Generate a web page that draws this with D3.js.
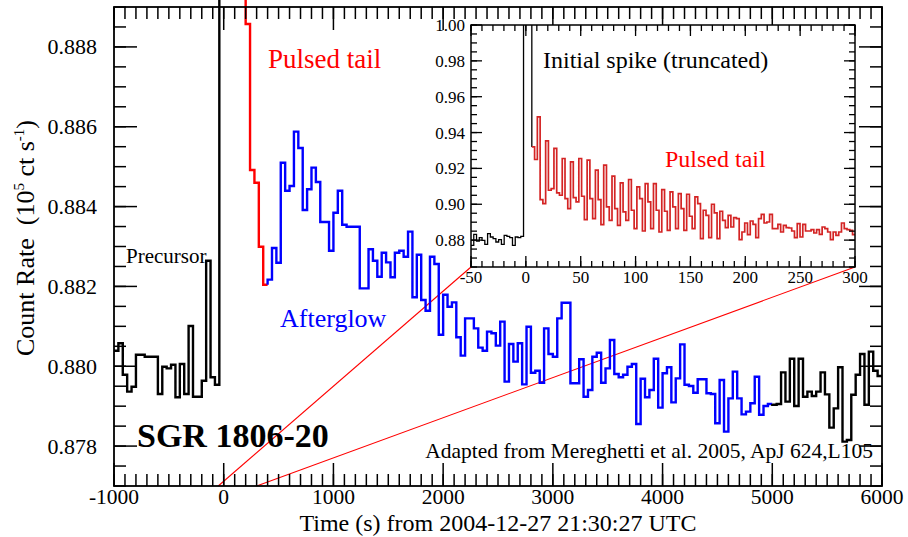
<!DOCTYPE html>
<html>
<head>
<meta charset="utf-8">
<script src="https://cdn.jsdelivr.net/npm/d3@7"></script>
<style>
  body { margin: 0; background: #fff; }
  svg { font-family: "Liberation Serif", "Times New Roman", serif; }
  text { white-space: pre; }
</style>
</head>
<body>
<svg width="908" height="537"></svg>
<script>
// Count rates in units of 10^5 ct/s
// Main panel: 40 s bins
const mainBin = 40;
const precursorStart = -1000;
const precursorRates = [0.88038, 0.88057, 0.87978, 0.87936, 0.87948, 0.88028, 0.88028, 0.88023,
  0.88023, 0.88023, 0.87930, 0.87998, 0.87994, 0.88003, 0.87922, 0.88005, 0.87930, 0.88100,
  0.87923, 0.87923, 0.87963, 0.88263, 0.87972, 0.87953];
// -40 .. 200 s : initial spike, off the top of the main panel
const spikeRates = [1.5, 0.925, 0.905, 0.90, 0.895, 0.892];
const pulsedStart = 200;
const pulsedRates = [0.88855, 0.88490, 0.88458, 0.88298, 0.88203];
const afterglowStart = 400;
const afterglowRates = [0.88216, 0.88295, 0.88258, 0.88508, 0.88438, 0.88450, 0.88586, 0.88545,
  0.88390, 0.88442, 0.88496, 0.88460, 0.88360, 0.88360, 0.88288, 0.88383, 0.88438, 0.88353,
  0.88348, 0.88348, 0.88348, 0.88194, 0.88194, 0.88292, 0.88263, 0.88223, 0.88283,
  0.88259, 0.88222, 0.88283, 0.88288, 0.88273, 0.88336, 0.88172, 0.88278, 0.88165, 0.88138,
  0.88273, 0.88255, 0.88078, 0.88178, 0.88148, 0.88159, 0.88072, 0.88026, 0.88119, 0.88119,
  0.88094, 0.88046, 0.88038, 0.88086, 0.88082, 0.88051, 0.88111, 0.87961, 0.88055, 0.88011,
  0.88057, 0.87954, 0.88098, 0.87983, 0.87988, 0.87958, 0.88094, 0.88030, 0.88023, 0.88119,
  0.88158, 0.88158, 0.87957, 0.87957, 0.88017, 0.87923, 0.87940, 0.88023, 0.88033, 0.87958,
  0.87994, 0.88065, 0.87980, 0.87972, 0.87978, 0.87998, 0.88005,
  0.87855, 0.87968, 0.87922, 0.87940, 0.88018, 0.87896, 0.87982, 0.87997, 0.87909, 0.87969,
  0.88054, 0.87953, 0.87950, 0.87933, 0.87967, 0.87967, 0.87932, 0.87930, 0.87857, 0.87965,
  0.87836, 0.87919, 0.87986, 0.87919, 0.87879, 0.87886, 0.87907, 0.87973, 0.87878, 0.87900,
  0.87905];
const lateStart = 5000;
const lateRates = [0.87903, 0.87905, 0.87984, 0.87911, 0.88018, 0.87900, 0.88018, 0.87923,
  0.87936, 0.87925, 0.87936, 0.87984, 0.87929, 0.87846, 0.87894, 0.87997, 0.87811, 0.87815,
  0.87928, 0.87978, 0.88030, 0.87903, 0.88036, 0.87988, 0.87975];

// Inset: 2.52 s bins (3 per 7.56 s spin period)
const insetBin = 2.52;
const insetStart = -50;
const insetPreRates = [0.87710, 0.88324, 0.87950, 0.88140, 0.87989, 0.87765, 0.88363, 0.88173,
  0.88084, 0.87894, 0.88028, 0.87765, 0.88268, 0.88212, 0.88140, 0.87709, 0.88173, 0.88140,
  0.88212];
const insetSpikeRates = [1.6, 1.3, 1.05];  // truncated
const insetTailRates = [0.93201, 0.92497, 0.94877, 0.90262, 0.90039, 0.93537, 0.90782, 0.90877,
  0.93112, 0.90631, 0.90503, 0.92553, 0.90318, 0.89760, 0.92363, 0.90374, 0.90128, 0.92553,
  0.90447, 0.89145, 0.92458, 0.90318, 0.89201, 0.91899, 0.90262, 0.88866,
  0.92179, 0.89849, 0.89106, 0.91564, 0.89760, 0.88827, 0.91190, 0.89570, 0.89106,
  0.91380, 0.89665, 0.88642, 0.90967, 0.90318, 0.88508, 0.91156, 0.90128, 0.88642,
  0.91156, 0.89665, 0.88452, 0.90821, 0.89609, 0.88547, 0.90687, 0.89849, 0.88642,
  0.90598, 0.89760, 0.88547, 0.90559, 0.89330, 0.88642, 0.90408, 0.90039, 0.88083,
  0.89665, 0.89385, 0.88140, 0.90000, 0.89514, 0.88083, 0.89609, 0.89106, 0.88698,
  0.89385, 0.88732, 0.89257, 0.89201, 0.88028, 0.88453, 0.88955, 0.88307, 0.89067, 0.88883,
  0.88140, 0.89201, 0.89441, 0.88955, 0.89011, 0.89441, 0.88642, 0.88642, 0.88883, 0.88453,
  0.88827, 0.88698, 0.88676, 0.88508, 0.88140, 0.88922, 0.88173, 0.88883, 0.88508, 0.88508,
  0.88587, 0.88397, 0.88587, 0.88324, 0.88732, 0.88642, 0.88453, 0.88028, 0.88453, 0.88268,
  0.88453, 0.88955, 0.88642, 0.88587, 0.88547, 0.88307];

// Axis ticks
const mainXTicks = [-1000, 0, 1000, 2000, 3000, 4000, 5000, 6000];
const mainYTicks = [0.878, 0.880, 0.882, 0.884, 0.886, 0.888];
const insetXTicks = [-50, 0, 50, 100, 150, 200, 250, 300];
const insetYTicks = [0.88, 0.90, 0.92, 0.94, 0.96, 0.98, 1.00];

let svg = d3.select('svg');

// Scales
let x = d3.scaleLinear().domain([-1000, 6000]).range([114, 882]);
let y = d3.scaleLinear().domain([0.877, 0.889]).range([486, 6]);
let ix = d3.scaleLinear().domain([-50, 300]).range([471, 855]);
let iy = d3.scaleLinear().domain([0.865, 1.00]).range([267, 25]);

function stepPoints(start, width, rates) {
  let pts = [];
  rates.forEach((r, i) => {
    pts.push([start + i * width, r]);
    pts.push([start + (i + 1) * width, r]);
  });
  return pts;
}

// draws inward ticks on all four sides of a frame
function frameTicks(g, sx, sy, xMaj, xMin, yMaj, yMin, lenMaj, lenMin, w) {
  let [x0, x1] = sx.range();
  let [y0, y1] = sy.range();   // y0 = bottom, y1 = top
  let t = [];
  xMin.forEach(v => t.push([sx(v), lenMin, 'x']));
  xMaj.forEach(v => t.push([sx(v), lenMaj, 'x']));
  yMin.forEach(v => t.push([sy(v), lenMin, 'y']));
  yMaj.forEach(v => t.push([sy(v), lenMaj, 'y']));
  t.forEach(([p, len, k]) => {
    if (k === 'x') {
      g.append('line').attr('x1', p).attr('x2', p).attr('y1', y0).attr('y2', y0 - len);
      g.append('line').attr('x1', p).attr('x2', p).attr('y1', y1).attr('y2', y1 + len);
    } else {
      g.append('line').attr('y1', p).attr('y2', p).attr('x1', x0).attr('x2', x0 + len);
      g.append('line').attr('y1', p).attr('y2', p).attr('x1', x1).attr('x2', x1 - len);
    }
  });
  g.selectAll('line').attr('stroke', '#000').attr('stroke-width', w);
}

svg.append('defs').append('clipPath').attr('id', 'mainClip')
  .append('rect').attr('x', 114).attr('y', 0).attr('width', 768).attr('height', 486);
svg.select('defs').append('clipPath').attr('id', 'insetClip')
  .append('rect').attr('x', 471).attr('y', 25).attr('width', 384).attr('height', 242);

let line = d3.line().x(d => x(d[0])).y(d => y(d[1]));
let iline = d3.line().x(d => ix(d[0])).y(d => iy(d[1]));

// Zoom connector lines
svg.append('line')
  .attr('x1', ix(-50)).attr('y1', iy(0.865)).attr('x2', x(-50)).attr('y2', y(0.877))
  .attr('stroke', '#ff0000').attr('stroke-width', 1.1);
svg.append('line')
  .attr('x1', ix(300)).attr('y1', iy(0.865)).attr('x2', x(300)).attr('y2', y(0.877))
  .attr('stroke', '#ff0000').attr('stroke-width', 1.1);

// Main light curve
let curves = svg.append('g').attr('clip-path', 'url(#mainClip)')
  .attr('fill', 'none').attr('stroke-width', 2.4).attr('stroke-linejoin', 'miter');

let blackPts = stepPoints(precursorStart, mainBin, precursorRates.concat(spikeRates));
let redPts = [[pulsedStart, spikeRates[spikeRates.length - 1]]]
  .concat(stepPoints(pulsedStart, mainBin, pulsedRates));
let bluePts = [[afterglowStart, pulsedRates[pulsedRates.length - 1]]]
  .concat(stepPoints(afterglowStart, mainBin, afterglowRates));
let latePts = [[lateStart, afterglowRates[afterglowRates.length - 1]]]
  .concat(stepPoints(lateStart, mainBin, lateRates));

curves.append('path').attr('d', line(blackPts)).attr('stroke', '#000');
curves.append('path').attr('d', line(redPts)).attr('stroke', '#ff0000');
curves.append('path').attr('d', line(bluePts)).attr('stroke', '#0000ff');
curves.append('path').attr('d', line(latePts)).attr('stroke', '#000');

// Main frame + ticks
svg.append('rect').attr('x', 114).attr('y', 7).attr('width', 768).attr('height', 479)
  .attr('fill', 'none').attr('stroke', '#000').attr('stroke-width', 1.8);
frameTicks(svg.append('g'), x, d3.scaleLinear().domain(y.domain()).range([486, 7]),
  mainXTicks, d3.range(-1000, 6001, 100), mainYTicks, d3.range(0.877, 0.8891, 0.0005),
  23, 12, 1.5);

// Main tick labels
svg.append('g').selectAll('text').data(mainXTicks).enter().append('text')
  .attr('x', d => x(d)).attr('y', 504).attr('text-anchor', 'middle')
  .attr('font-size', 21.5).text(d => d);
svg.append('g').selectAll('text').data(mainYTicks).enter().append('text')
  .attr('x', 97).attr('y', d => y(d) + 7.5).attr('text-anchor', 'end')
  .attr('font-size', 22).text(d => d3.format('.3f')(d));

// Axis titles
svg.append('text').attr('x', 498).attr('y', 531).attr('text-anchor', 'middle')
  .attr('font-size', 24).text('Time (s) from 2004-12-27 21:30:27 UTC');
let yl = svg.append('text').attr('transform', 'translate(34,238) rotate(-90)')
  .attr('text-anchor', 'middle').attr('font-size', 26);
yl.append('tspan').text('Count Rate  (10');
yl.append('tspan').attr('font-size', 15).attr('dy', -10).text('5');
yl.append('tspan').attr('dy', 10).text(' ct s');
yl.append('tspan').attr('font-size', 15).attr('dy', -10).text('-1');
yl.append('tspan').attr('dy', 10).text(')');

// Annotations
svg.append('text').attr('x', 268).attr('y', 68).attr('font-size', 27)
  .attr('fill', '#ff0000').text('Pulsed tail');
svg.append('text').attr('x', 280).attr('y', 327).attr('font-size', 26)
  .attr('fill', '#0000ff').text('Afterglow');
svg.append('text').attr('x', 126).attr('y', 263).attr('font-size', 21)
  .text('Precursor');
svg.append('text').attr('x', 137).attr('y', 447).attr('font-size', 34)
  .attr('font-weight', 'bold').text('SGR 1806-20');
svg.append('text').attr('x', 873).attr('y', 458).attr('text-anchor', 'end')
  .attr('font-size', 21.5).text('Adapted from Mereghetti et al. 2005, ApJ 624,L105');

// Inset
svg.append('rect').attr('x', 471).attr('y', 25).attr('width', 384).attr('height', 242)
  .attr('fill', '#fff');

let inset = svg.append('g').attr('clip-path', 'url(#insetClip)').attr('fill', 'none');
let tailStart = insetStart + (insetPreRates.length + insetSpikeRates.length) * insetBin;
let insetBlack = stepPoints(insetStart, insetBin, insetPreRates.concat(insetSpikeRates))
  .concat([[tailStart, insetTailRates[0]]]);
let insetRed = stepPoints(tailStart, insetBin, insetTailRates);
inset.append('path').attr('d', iline(insetBlack)).attr('stroke', '#000').attr('stroke-width', 1.3);
inset.append('path').attr('d', iline(insetRed)).attr('stroke', '#d42424').attr('stroke-width', 1.7);

svg.append('rect').attr('x', 471).attr('y', 25).attr('width', 384).attr('height', 242)
  .attr('fill', 'none').attr('stroke', '#000').attr('stroke-width', 1.5);
frameTicks(svg.append('g'), ix, iy, insetXTicks, d3.range(-50, 301, 10),
  insetYTicks, d3.range(0.865, 1.0001, 0.005), 11, 6, 1.3);

svg.append('g').selectAll('text').data(insetXTicks).enter().append('text')
  .attr('x', d => ix(d)).attr('y', 283).attr('text-anchor', 'middle')
  .attr('font-size', 17).text(d => d);
svg.append('g').selectAll('text').data(insetYTicks).enter().append('text')
  .attr('x', 465).attr('y', d => iy(d) + 6).attr('text-anchor', 'end')
  .attr('font-size', 17).text(d => d3.format('.2f')(d));

svg.append('text').attr('x', 543).attr('y', 68).attr('font-size', 24)
  .text('Initial spike (truncated)');
svg.append('text').attr('x', 665).attr('y', 167).attr('font-size', 24)
  .attr('fill', '#ff0000').text('Pulsed tail');
</script>
</body>
</html>
